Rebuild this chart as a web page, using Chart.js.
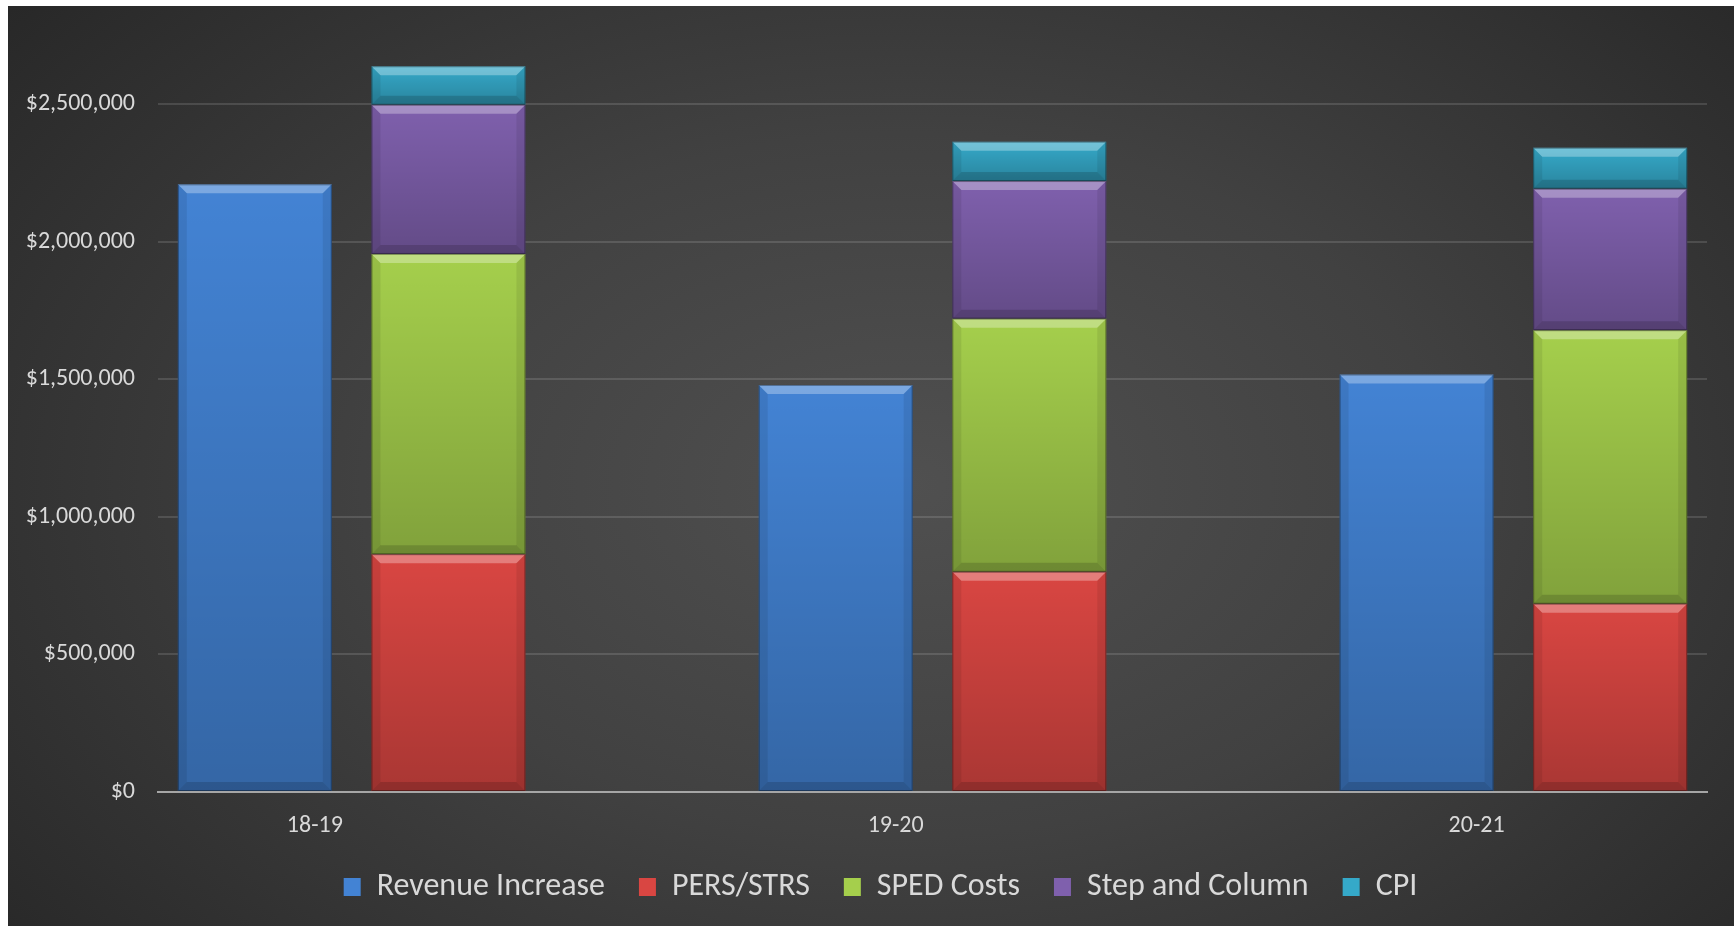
<!DOCTYPE html>
<html>
<head>
<meta charset="utf-8">
<title>Revenue vs cost increases</title>
<script src="https://cdn.jsdelivr.net/npm/chart.js@4.4.1/dist/chart.umd.min.js"></script>
<style>
    html, body { margin: 0; padding: 0; background: #fff; overflow: hidden; }
    #wrap {
        position: absolute; left: 8px; top: 6px; width: 1726px; height: 920px;
        background: radial-gradient(ellipse 70% 85% at 52% 52%, #505050 0%, #414141 45%, #262626 100%);
    }
</style>
</head>
<body>
<div id="wrap"><canvas id="chart"></canvas></div>
<script>
// values
const years = ['18-19', '19-20', '20-21'];
const revenueIncrease = [2208000, 1479000, 1517000];
const persStrs = [864000, 800000, 684000];
const spedCosts = [1091000, 920000, 994000];
const stepAndColumn = [542000, 500000, 514000];
const cpi = [140000, 143000, 149000];

const yTicks = [0, 500000, 1000000, 1500000, 2000000, 2500000];
const yMax = 2856000;   // top of the plot is cut off just below $3M

// each year gets three slots: revenue bar, cost stack, gap (last gap dropped)
function slots(values, offset) {
    var out = [];
    for (var i = 0; i < years.length; i++) {
        for (var k = 0; k < 3; k++) {
            if (i == years.length - 1 && k == 2) break;
            out.push(k == offset ? values[i] : null);
        }
    }
    return out;
}

var slotLabels = slots(years, 0).map(function (v) { return v || ''; });

var FONT = 'Carlito, Calibri, Lato, sans-serif';
var TEXT = '#d9d9d9';

// excel-ish bevel on every bar segment
const bevel = {
    id: 'bevel',
    afterDatasetsDraw(chart) {
        var ctx = chart.ctx;
        chart.data.datasets.forEach(function (ds, i) {
            var meta = chart.getDatasetMeta(i);
            if (meta.hidden) return;
            meta.data.forEach(function (bar) {
                var p = bar.getProps(['x', 'y', 'base', 'width'], true);
                if (!isFinite(p.y) || !isFinite(p.base)) return;
                var l = p.x - p.width / 2, r = p.x + p.width / 2;
                var t = Math.min(p.y, p.base), b = Math.max(p.y, p.base);
                if (b - t < 2) return;
                var d = Math.min(9, (b - t) / 2);
                ctx.save();
                var g = ctx.createLinearGradient(0, t, 0, b);
                g.addColorStop(0, 'rgba(0,0,0,0)');
                g.addColorStop(1, 'rgba(0,0,0,0.22)');
                ctx.fillStyle = g;
                ctx.fillRect(l, t, r - l, b - t);
                // top
                ctx.fillStyle = 'rgba(255,255,255,0.30)';
                ctx.beginPath();
                ctx.moveTo(l, t); ctx.lineTo(r, t); ctx.lineTo(r - d, t + d); ctx.lineTo(l + d, t + d);
                ctx.closePath(); ctx.fill();
                // sides
                ctx.fillStyle = 'rgba(0,0,0,0.08)';
                ctx.beginPath();
                ctx.moveTo(l, t); ctx.lineTo(l + d, t + d); ctx.lineTo(l + d, b - d); ctx.lineTo(l, b);
                ctx.closePath(); ctx.fill();
                ctx.beginPath();
                ctx.moveTo(r, t); ctx.lineTo(r - d, t + d); ctx.lineTo(r - d, b - d); ctx.lineTo(r, b);
                ctx.closePath(); ctx.fill();
                // bottom
                ctx.fillStyle = 'rgba(0,0,0,0.15)';
                ctx.beginPath();
                ctx.moveTo(l, b); ctx.lineTo(r, b); ctx.lineTo(r - d, b - d); ctx.lineTo(l + d, b - d);
                ctx.closePath(); ctx.fill();
                ctx.strokeStyle = 'rgba(0,0,0,0.35)';
                ctx.lineWidth = 1;
                ctx.strokeRect(l + 0.5, t + 0.5, r - l - 1, b - t - 1);
                ctx.restore();
            });
        });
    }
};

// the excel legend sits a little right of the canvas centre
const legendNudge = {
    id: 'legendNudge',
    afterLayout(chart) {
        var lg = chart.legend;
        if (!lg) return;
        lg.left += 23; lg.right += 23;
        lg.top += 2; lg.bottom += 2;
    }
};

function series(label, values, offset, color) {
    return {
        label: label,
        data: slots(values, offset),
        backgroundColor: color,
        borderWidth: 0,
        categoryPercentage: 1.0,
        barPercentage: 0.795
    };
}

new Chart(document.getElementById('chart'), {
    type: 'bar',
    data: {
        labels: slotLabels,
        datasets: [
            series('Revenue Increase', revenueIncrease, 0, '#4383d4'),
            series('PERS/STRS', persStrs, 1, '#d94642'),
            series('SPED Costs', spedCosts, 1, '#a5cf4c'),
            series('Step and Column', stepAndColumn, 1, '#7f60ad'),
            series('CPI', cpi, 1, '#35a9c9')
        ]
    },
    options: {
        responsive: true,
        maintainAspectRatio: false,
        animation: false,
        layout: { padding: { top: 0, right: 27, bottom: 15, left: 0 } },
        plugins: {
            tooltip: { enabled: false },
            legend: {
                position: 'bottom',
                labels: {
                    color: TEXT,
                    font: { family: FONT, size: 32 },
                    boxWidth: 17,
                    boxHeight: 18,
                    padding: 34
                }
            }
        },
        scales: {
            x: {
                stacked: true,
                grid: { display: false, drawTicks: false },
                border: { display: true, color: '#a6a6a6', width: 2 },
                ticks: {
                    color: TEXT,
                    font: { family: FONT, size: 24 },
                    autoSkip: false,
                    maxRotation: 0,
                    padding: 20,
                    labelOffset: 60
                },
                afterFit: function (s) { s.height = 43; }
            },
            y: {
                stacked: true,
                min: 0,
                max: yMax,
                grid: { color: 'rgba(255,255,255,0.13)', lineWidth: 2, drawTicks: false },
                border: { display: false },
                ticks: {
                    color: TEXT,
                    font: { family: FONT, size: 24 },
                    padding: 23,
                    callback: function (v) { return '$' + v.toLocaleString('en-US'); }
                },
                afterBuildTicks: function (s) {
                    s.ticks = yTicks.map(function (v) { return { value: v }; });
                },
                afterFit: function (s) {
                    s.width = 150;
                    s.paddingTop = 0;
                    s.paddingBottom = 0;
                }
            }
        }
    },
    plugins: [bevel, legendNudge]
});
</script>
</body>
</html>
